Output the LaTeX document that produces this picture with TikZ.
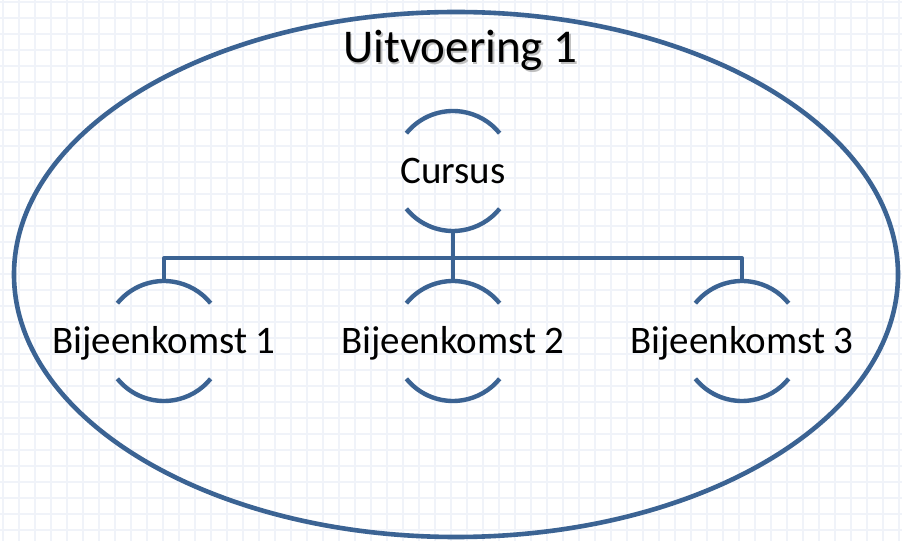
\documentclass[tikz,border=0pt]{standalone}
\usepackage{fontspec}
\setmainfont{Carlito}
\usetikzlibrary{calc}
\definecolor{sablue}{RGB}{59,99,147}
\definecolor{gridc}{RGB}{240,243,249}
\tikzset{
  gridline/.style={draw=gridc, line width=1.6pt},
  outer/.style={draw=sablue, line width=4.6pt},
  arcline/.style={draw=sablue, line width=4.4pt},
  conn/.style={draw=sablue, line width=4pt, line join=round},
  unit/.style={rectangle, inner sep=0pt, minimum height=120pt, minimum width=120pt,
    text height=25pt, text depth=0pt, font=\fontsize{39}{47}\selectfont},
  titletext/.style={inner sep=0pt, anchor=base, font=\fontsize{47}{56}\selectfont},
}
\begin{document}
\begin{tikzpicture}[x=1pt,y=1pt]
\useasboundingbox (0,0) rectangle (902,541);
\fill[white] (0,0) rectangle (902,541);
% grid
\foreach \k in {0,...,56} { \draw[gridline] ({3+16*\k},0) -- ({3+16*\k},541); }
\foreach \k in {0,...,33} { \draw[gridline] (0,{539-16*\k}) -- (902,{539-16*\k}); }
% outer ellipse
\draw[outer] (456,266.5) ellipse[x radius=442, y radius=262.5];
% title with shadow
\node[titletext, text=black!35, opacity=0.7] (titleshadow) at (462,476) {Uitvoering 1};
\node[titletext] (title) at (460.5,478) {Uitvoering 1};
% units
\node[unit] (cursus) at (453,370) {Cursus};
\node[unit] (b1) at (164,200) {Bijeenkomst 1};
\node[unit] (b2) at (453,200) {Bijeenkomst 2};
\node[unit] (b3) at (742,200) {Bijeenkomst 3};
\foreach \n in {cursus,b1,b2,b3} {
  \draw[arcline] ($(\n.center)+(141:60)$) arc[start angle=141, end angle=39, radius=60];
  \draw[arcline] ($(\n.center)+(-141:60)$) arc[start angle=-141, end angle=-39, radius=60];
}
% connectors
\coordinate (bar) at (453,283);
\draw[conn] (cursus.south) -- (bar) -| (b1.north);
\draw[conn] (bar) -| (b3.north);
\draw[conn] (bar) -- (b2.north);
\end{tikzpicture}
\end{document}
